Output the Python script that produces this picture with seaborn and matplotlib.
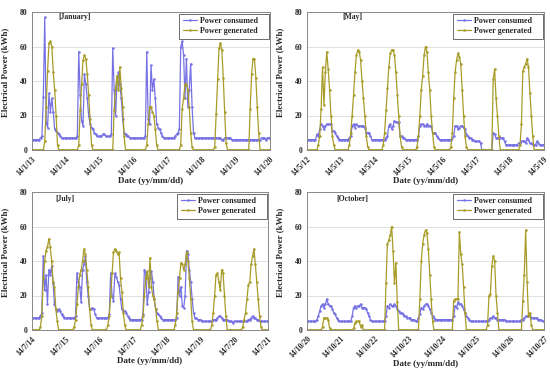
import numpy as np
import pandas as pd
import matplotlib
matplotlib.use("Agg")
import matplotlib.pyplot as plt
import seaborn as sns

# hourly values (kWh), one list of 24 per day, plus the closing midnight value
jan_cons = [
    [6,6,6,6,6,6,7,8,31,77,16,13,33,22,30,22,12,11,10,9,8,7,7,7],
    [7,7,7,7,7,7,7,7,8,57,32,17,14,44,38,30,20,15,13,12,10,9,8,8],
    [8,8,9,9,8,8,8,8,9,59,35,20,40,45,38,30,18,10,9,8,8,7,7,7],
    [7,7,7,7,7,7,7,7,8,57,18,15,49,35,41,30,15,13,12,10,8,7,7,7],
    [7,7,7,7,7,8,9,10,12,60,63,55,30,53,25,35,50,25,10,7,7,7,7,7],
    [7,7,7,7,7,7,7,7,7,7,7,7,7,7,6,6,7,7,7,7,7,6,6,6],
    [6,6,6,6,6,6,6,6,6,6,6,6,6,6,6,6,6,6,7,7,7,6,7,7],
]
jan_gen = [
    [0,0,0,0,0,0,0,0,0,5,25,46,62,63,60,45,35,20,3,0,0,0,0,0],
    [0,0,0,0,0,0,0,0,0,3,23,38,52,55,53,44,32,18,3,0,0,0,0,0],
    [0,0,0,0,0,0,0,0,0,0,23,36,43,35,48,36,25,8,0,0,0,0,0,0],
    [0,0,0,0,0,0,0,0,0,3,15,25,25,22,20,12,3,0,0,0,0,0,0,0],
    [0,0,0,0,0,0,0,0,0,3,24,30,38,38,35,25,10,2,0,0,0,0,0,0],
    [0,0,0,0,0,0,0,0,0,2,21,41,59,62,58,42,22,4,0,0,0,0,0,0],
    [0,0,0,0,0,0,0,0,0,0,24,44,53,53,42,25,10,0,0,0,0,0,0,0],
]
may_cons = [
    [6,6,6,6,6,6,6,9,8,12,15,14,12,14,15,15,15,15,11,11,10,8,7,6],
    [6,6,6,6,6,6,7,8,14,15,13,15,14,14,14,14,14,13,10,10,10,8,6,6],
    [6,6,6,6,6,6,6,6,7,8,14,15,12,14,17,16,16,16,8,8,7,7,6,6],
    [6,6,6,6,6,6,6,8,14,15,15,14,14,15,14,14,14,10,10,10,8,7,6,6],
    [6,6,6,6,6,6,6,7,8,14,14,12,13,14,14,13,12,9,8,7,7,6,6,5],
    [5,5,5,4,0,0,0,0,0,0,0,0,10,9,7,7,7,7,7,7,5,3,3,3],
    [3,3,3,3,3,3,4,4,5,5,5,4,7,6,4,4,3,3,3,5,4,3,3,3],
]
may_gen = [
    [0,0,0,0,0,0,0,0,3,8,24,48,26,45,57,47,35,20,8,3,0,0,0,0],
    [0,0,0,0,0,0,3,10,20,32,45,55,58,57,52,40,30,20,8,2,0,0,0,0],
    [0,0,0,0,0,0,3,10,23,36,48,56,58,58,55,45,32,20,8,2,0,0,0,0],
    [0,0,0,0,0,0,2,8,20,35,43,55,60,57,45,35,20,10,2,0,0,0,0,0],
    [0,0,0,0,0,0,2,10,30,45,52,56,54,50,35,20,8,2,0,0,0,0,0,0],
    [0,0,0,0,0,0,0,0,0,0,0,0,41,47,30,20,8,0,0,0,0,0,0,0],
    [0,0,0,0,0,0,0,3,15,46,48,50,53,48,33,20,8,0,0,0,0,0,0,0],
]
jul_cons = [
    [7,7,7,7,7,7,8,10,43,23,32,15,35,32,37,27,15,12,11,12,11,9,8,7],
    [7,7,7,7,7,7,7,8,33,28,25,16,35,38,43,28,20,12,12,13,12,9,7,7],
    [7,7,7,7,7,7,7,9,33,20,17,33,31,28,26,18,12,11,11,10,8,7,6,6],
    [6,6,6,6,6,6,6,9,35,33,15,22,30,34,28,18,12,10,9,8,7,6,6,6],
    [6,6,6,6,6,6,6,7,31,20,25,14,13,20,46,44,35,28,18,10,7,7,6,6],
    [6,5,5,5,5,5,5,5,5,6,6,6,7,8,8,7,6,6,6,6,5,5,5,4],
    [5,5,5,5,5,5,5,5,5,5,6,6,7,8,7,7,6,6,5,5,5,5,5,5],
]
jul_gen = [
    [0,0,0,0,0,0,2,8,30,40,46,48,53,48,40,28,25,12,5,0,0,0,0,0],
    [0,0,0,0,0,0,2,6,15,25,32,35,40,47,44,35,25,12,3,0,0,0,0,0],
    [0,0,0,0,0,0,3,8,20,33,45,47,46,44,45,30,22,10,3,0,0,0,0,0],
    [0,0,0,0,0,0,3,8,20,30,34,25,42,25,20,18,12,5,0,0,0,0,0,0],
    [0,0,0,0,0,0,3,10,22,30,39,38,35,38,45,40,30,18,5,0,0,0,0,0],
    [0,0,0,0,0,0,0,0,3,10,20,32,33,28,23,35,33,20,8,0,0,0,0,0],
    [0,0,0,0,0,0,2,6,10,18,26,28,38,43,47,38,28,18,8,2,0,0,0,0],
]
oct_cons = [
    [5,5,5,5,5,5,5,6,8,11,14,15,13,15,18,15,14,14,12,10,9,7,6,5],
    [5,5,5,5,5,5,5,5,8,13,14,13,14,14,15,13,13,13,12,10,8,6,5,5],
    [5,5,5,5,5,5,5,5,8,14,13,15,14,14,15,14,12,11,10,10,9,8,8,7],
    [7,7,6,6,6,5,5,7,9,13,12,14,15,15,14,12,10,8,7,6,6,6,6,6],
    [6,6,6,6,6,6,6,6,8,14,13,16,15,15,14,12,10,8,7,6,5,5,5,5],
    [5,5,5,5,5,5,5,5,5,6,7,7,8,7,7,6,6,6,6,6,6,5,5,5],
    [5,5,5,5,5,5,5,5,6,6,7,8,8,8,8,7,7,7,7,7,6,6,6,5],
]
oct_gen = [
    [0,0,0,0,0,0,0,0,0,0,0,2,7,7,7,6,1,0,0,0,0,0,0,0],
    [0,0,0,0,0,0,0,0,0,1,4,5,5,5,2,3,0,0,0,0,0,0,0,0],
    [0,0,0,0,0,0,0,0,27,50,52,55,60,46,27,39,16,0,0,0,0,0,0,0],
    [0,0,0,0,0,0,0,0,18,40,50,55,58,56,47,32,18,5,0,0,0,0,0,0],
    [0,0,0,0,0,0,0,0,17,18,18,18,57,44,38,25,10,0,0,0,0,0,0,0],
    [0,0,0,0,0,0,0,0,3,20,21,37,43,40,20,10,0,0,0,0,0,0,0,0],
    [0,0,0,0,0,0,0,0,0,17,32,58,28,8,10,3,0,0,0,0,0,0,0,0],
]
last_cons = {"jan": 7, "may": 3, "jul": 5, "oct": 5}

jan_dates = ["14/1/13", "14/1/14", "14/1/15", "14/1/16", "14/1/17", "14/1/18", "14/1/19", "14/1/20"]
may_dates = ["14/5/12", "14/5/13", "14/5/14", "14/5/15", "14/5/16", "14/5/17", "14/5/18", "14/5/19"]
jul_dates = ["14/7/14", "14/7/15", "14/7/16", "14/7/17", "14/7/18", "14/7/19", "14/7/20", "14/7/21"]
oct_dates = ["14/10/20", "14/10/21", "14/10/22", "14/10/23", "14/10/24", "14/10/25", "14/10/26", "14/10/27"]

sns.set_style("white")
plt.rcParams['font.family'] = ['Liberation Serif', 'DejaVu Serif']
plt.rcParams['font.weight'] = 'bold'

c_cons = '#7772e4'
c_gen = '#a89c28'

fig = plt.figure(figsize=(5.5, 3.72), dpi=100)

panels = [
    ("jan", jan_cons, jan_gen, jan_dates, "[January]", [32/550, 1-150/372, 238/550, 138/372], 0.11, 0.965),
    ("may", may_cons, may_gen, may_dates, "[May]", [307/550, 1-150/372, 237/550, 138/372], 0.15, 0.965),
    ("jul", jul_cons, jul_gen, jul_dates, "[July]", [32/550, 1-330/372, 236/550, 138/372], 0.10, 0.95),
    ("oct", oct_cons, oct_gen, oct_dates, "[October]", [307/550, 1-330/372, 237/550, 138/372], 0.125, 0.95),
]

for key, cons, gen, dates, title, rect, tx, ty in panels:
    ax = fig.add_axes(rect)
    cons_vals = [v for day in cons for v in day] + [last_cons[key]]
    gen_vals = [v for day in gen for v in day] + [0]
    df = pd.DataFrame({"day": np.arange(len(cons_vals)) / 24.0,
                       "consumed": cons_vals, "generated": gen_vals})
    sns.lineplot(data=df, x="day", y="consumed", ax=ax, color=c_cons, linewidth=0.9,
                 marker='o', markersize=1.8, markeredgewidth=0, label="Power consumed    ")
    sns.lineplot(data=df, x="day", y="generated", ax=ax, color=c_gen, linewidth=0.9,
                 marker='o', markersize=1.8, markeredgewidth=0, label="Power generated    ")
    ax.set_xlim(0, 7)
    ax.set_ylim(0, 80)
    ax.set_yticks([0, 20, 40, 60, 80])
    ax.set_xticks(range(8))
    ax.set_xticklabels(dates, rotation=45, ha='right', rotation_mode='anchor')
    ax.yaxis.grid(True, color='#dcdcdc', linewidth=0.6)
    ax.set_axisbelow(True)
    for s in ax.spines.values():
        s.set_color('#888888')
        s.set_linewidth(0.7)
    ax.tick_params(axis='both', labelsize=5.5, length=2, width=0.5, pad=1.5, color='#888888')
    ax.set_xlabel("Date (yy/mm/dd)", fontsize=6.5, fontweight='bold', labelpad=0)
    ax.set_ylabel("Electrical Power (kWh)", fontsize=6.4, fontweight='bold', labelpad=1)
    ax.yaxis.set_label_coords(-0.095, 0.56)
    ax.text(tx, ty, title, transform=ax.transAxes, fontsize=5.5, fontweight='bold',
            ha='left', va='center')
    leg = ax.legend(loc='upper right', bbox_to_anchor=(0.995, 0.985), fontsize=5.8,
                    frameon=True, fancybox=False, edgecolor='#555555', framealpha=1,
                    handlelength=1.8, handletextpad=0.3, borderpad=0.4, labelspacing=0.25,
                    borderaxespad=0)
    leg.get_frame().set_linewidth(0.6)

fig.savefig("out.png", dpi=100)
